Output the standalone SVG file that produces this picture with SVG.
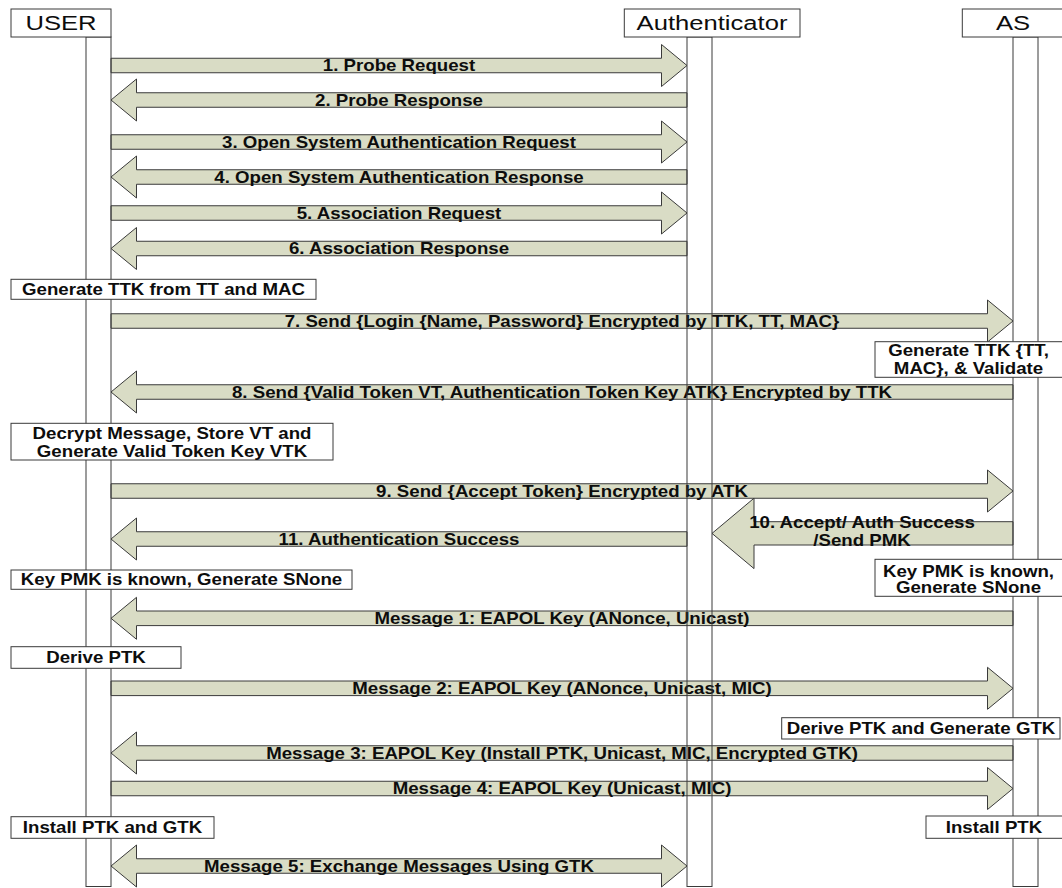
<svg xmlns="http://www.w3.org/2000/svg" width="1062" height="888" viewBox="0 0 1062 888">
<style>
.bg{fill:#ffffff}
.arr{fill:#d9dcc5;stroke:#3a3a3a;stroke-width:1}
.bar{fill:none;stroke:#3a3a3a;stroke-width:1}
.box{fill:#ffffff;stroke:#3a3a3a;stroke-width:1}
.t{font-family:"Liberation Sans",Arial,sans-serif;font-weight:bold;font-size:16px;fill:#0d0d0d;text-anchor:middle}
.h{font-family:"Liberation Sans",Arial,sans-serif;font-size:21px;fill:#0d0d0d;text-anchor:middle}
</style>
<rect class="bg" x="0" y="0" width="1062" height="888"/>
<g id="connectors">
  <g id="m1"><path class="arr" d="M111,58.25 H661.5 V44.5 L687,65.5 L661.5,86.5 V72.75 H111 Z"/><text class="t" transform="translate(399,71) scale(1.167,1)">1. Probe Request</text></g>
  <g id="m2"><path class="arr" d="M687,92.75 H136.5 V79 L111,100 L136.5,121 V107.25 H687 Z"/><text class="t" transform="translate(399,105.5) scale(1.167,1)">2. Probe Response</text></g>
  <g id="m3"><path class="arr" d="M111,134.75 H661.5 V121 L687,142 L661.5,163 V149.25 H111 Z"/><text class="t" transform="translate(399,147.5) scale(1.167,1)">3. Open System Authentication Request</text></g>
  <g id="m4"><path class="arr" d="M687,169.75 H136.5 V156 L111,177 L136.5,198 V184.25 H687 Z"/><text class="t" transform="translate(399,182.5) scale(1.167,1)">4. Open System Authentication Response</text></g>
  <g id="m5"><path class="arr" d="M111,205.75 H661.5 V192 L687,213 L661.5,234 V220.25 H111 Z"/><text class="t" transform="translate(399,218.5) scale(1.167,1)">5. Association Request</text></g>
  <g id="m6"><path class="arr" d="M687,241.25 H136.5 V227.5 L111,248.5 L136.5,269.5 V255.75 H687 Z"/><text class="t" transform="translate(399,254) scale(1.167,1)">6. Association Response</text></g>
  <g id="m7"><path class="arr" d="M111,313.75 H987.5 V300 L1013,321 L987.5,342 V328.25 H111 Z"/><text class="t" transform="translate(562,326.5) scale(1.167,1)">7. Send {Login {Name, Password} Encrypted by TTK, TT, MAC}</text></g>
  <g id="m8"><path class="arr" d="M1013,384.75 H136.5 V371 L111,392 L136.5,413 V399.25 H1013 Z"/><text class="t" transform="translate(562,397.5) scale(1.167,1)">8. Send {Valid Token VT, Authentication Token Key ATK} Encrypted by TTK</text></g>
  <g id="m9"><path class="arr" d="M111,483.75 H987.5 V470 L1013,491 L987.5,512 V498.25 H111 Z"/><text class="t" transform="translate(562,496.5) scale(1.167,1)">9. Send {Accept Token} Encrypted by ATK</text></g>
  <g id="m10"><path class="arr" d="M1013,521.7 H754 V498.2 L712,533.4 L754,568.6 V545 H1013 Z"/><text class="t" transform="translate(862,528) scale(1.167,1)">10. Accept/ Auth Success</text><text class="t" transform="translate(862,546) scale(1.167,1)">/Send PMK</text></g>
  <g id="m11"><path class="arr" d="M687,531.75 H136.5 V518 L111,539 L136.5,560 V546.25 H687 Z"/><text class="t" transform="translate(399,544.5) scale(1.167,1)">11. Authentication Success</text></g>
  <g id="k1"><path class="arr" d="M1013,611 H136.5 V597.3 L111,618.3 L136.5,639.3 V625.6 H1013 Z"/><text class="t" transform="translate(562,623.5) scale(1.167,1)">Message 1: EAPOL Key (ANonce, Unicast)</text></g>
  <g id="k2"><path class="arr" d="M111,681 H987.5 V667.3 L1013,688.3 L987.5,709.3 V695.6 H111 Z"/><text class="t" transform="translate(562,693.5) scale(1.167,1)">Message 2: EAPOL Key (ANonce, Unicast, MIC)</text></g>
  <g id="k3"><path class="arr" d="M1013,745.75 H136.5 V732 L111,753 L136.5,774 V760.25 H1013 Z"/><text class="t" transform="translate(562,758.5) scale(1.167,1)">Message 3: EAPOL Key (Install PTK, Unicast, MIC, Encrypted GTK)</text></g>
  <g id="k4"><path class="arr" d="M111,781.25 H987.5 V767.5 L1013,788.5 L987.5,809.5 V795.75 H111 Z"/><text class="t" transform="translate(562,794) scale(1.167,1)">Message 4: EAPOL Key (Unicast, MIC)</text></g>
  <g id="k5"><path class="arr" d="M111,866 L136.5,845 V858.75 H661.5 V845 L687,866 L661.5,887 V873.25 H136.5 V887 Z"/><text class="t" transform="translate(399,871.5) scale(1.167,1)">Message 5: Exchange Messages Using GTK</text></g>
</g>
<g id="user">
  <rect class="bar" x="86" y="37" width="25" height="849.5"/>
  <rect class="box" x="11" y="9" width="100" height="28"/>
  <text class="h" transform="translate(61,30) scale(1.22,1)">USER</text>
</g>
<g id="authenticator">
  <rect class="bar" x="687" y="37" width="25" height="849.5"/>
  <rect class="box" x="624.3" y="9" width="175.7" height="28"/>
  <text class="h" transform="translate(712,30) scale(1.22,1)">Authenticator</text>
</g>
<g id="as">
  <rect class="bar" x="1013" y="37" width="25" height="849.5"/>
  <rect class="box" x="962.3" y="9" width="110" height="28"/>
  <text class="h" transform="translate(1013,30) scale(1.22,1)">AS</text>
</g>
<g id="note-gen-ttk-user">
  <rect class="box" x="11" y="279.3" width="305" height="20"/>
  <text class="t" transform="translate(163.5,294.8) scale(1.167,1)">Generate TTK from TT and MAC</text>
</g>
<g id="note-gen-ttk-as">
  <rect class="box" x="875" y="341.7" width="190" height="35.6"/>
  <text class="t" transform="translate(968.5,356) scale(1.167,1)">Generate TTK {TT,</text>
  <text class="t" transform="translate(968.5,373.5) scale(1.167,1)">MAC}, &amp; Validate</text>
</g>
<g id="note-decrypt">
  <rect class="box" x="11" y="423.3" width="322" height="36.7"/>
  <text class="t" transform="translate(172,439) scale(1.167,1)">Decrypt Message, Store VT and</text>
  <text class="t" transform="translate(172,456.5) scale(1.167,1)">Generate Valid Token Key VTK</text>
</g>
<g id="note-pmk-user">
  <rect class="box" x="11" y="570" width="341" height="19.3"/>
  <text class="t" transform="translate(181.5,585) scale(1.167,1)">Key PMK is known, Generate SNone</text>
</g>
<g id="note-pmk-as">
  <rect class="box" x="875" y="559.3" width="190" height="37"/>
  <text class="t" transform="translate(968.5,576.5) scale(1.167,1)">Key PMK is known,</text>
  <text class="t" transform="translate(968.5,593) scale(1.167,1)">Generate SNone</text>
</g>
<g id="note-derive-user">
  <rect class="box" x="11" y="646.7" width="170" height="21.6"/>
  <text class="t" transform="translate(96,663) scale(1.167,1)">Derive PTK</text>
</g>
<g id="note-derive-as">
  <rect class="box" x="781.7" y="717.7" width="278.3" height="21.3"/>
  <text class="t" transform="translate(921,734) scale(1.167,1)">Derive PTK and Generate GTK</text>
</g>
<g id="note-install-user">
  <rect class="box" x="11" y="816.7" width="203" height="21.6"/>
  <text class="t" transform="translate(112.5,832.5) scale(1.167,1)">Install PTK and GTK</text>
</g>
<g id="note-install-as">
  <rect class="box" x="926" y="816" width="140" height="22.3"/>
  <text class="t" transform="translate(994,832.5) scale(1.167,1)">Install PTK</text>
</g>
</svg>
